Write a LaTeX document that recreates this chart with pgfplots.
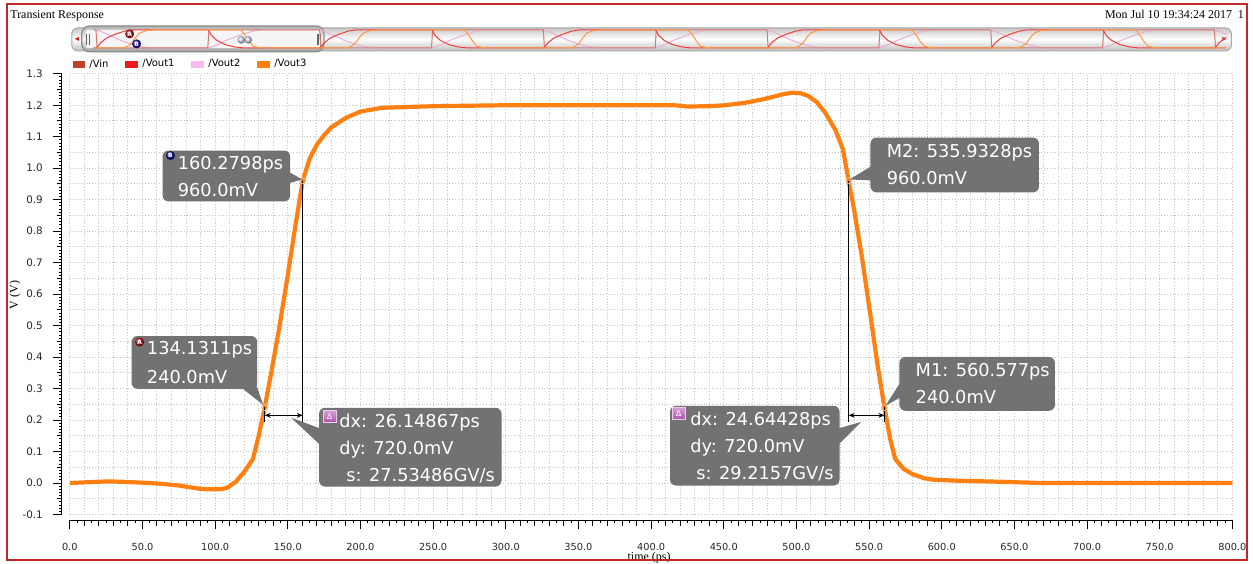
\documentclass[border=0pt]{standalone}
\usepackage{pgfplots}
\pgfplotsset{compat=1.18}
\usepackage{pgfplotstable}
\usepackage{fontspec}
\setmainfont{Liberation Serif}
\newfontfamily\dejavu{DejaVu Sans}
\usetikzlibrary{arrows.meta}

\definecolor{vincol}{RGB}{192,64,48}
\definecolor{vout1col}{RGB}{240,24,24}
\definecolor{vout2col}{RGB}{248,186,232}
\definecolor{vout3col}{RGB}{255,128,16}
\definecolor{boxgray}{RGB}{114,114,114}
\definecolor{framered}{RGB}{192,40,40}
\definecolor{gridgray}{RGB}{196,196,196}
\definecolor{markblue}{RGB}{20,20,150}
\definecolor{markred}{RGB}{190,20,28}
\definecolor{deltapurple}{RGB}{190,90,190}

\newcommand{\annot}{\dejavu\fontsize{8.9}{10.5}\selectfont}
\newcommand{\xticksfont}{\dejavu\fontsize{4.9}{5.9}\selectfont}
\newcommand{\yticksfont}{\dejavu\fontsize{5.2}{6.2}\selectfont}

\pgfplotsset{swatch/.style={legend image code/.code={\fill[##1] (0pt,-1.8pt) rectangle (6.5pt,1.8pt);}}}
\tikzset{px/.style={x=0.5pt,y=-0.5pt,shift={(0pt,282.5pt)}}}

% Vout3 transient (time in ps, voltage in V)
\pgfplotstableread{
t v
0 0.000
10 0.002
20 0.004
26 0.005
35 0.004
45 0.002
55 0.000
64 -0.003
75 -0.008
82 -0.013
89 -0.018
95 -0.020
103 -0.020
108 -0.016
114 0.003
120 0.035
126 0.076
130 0.150
134.1311 0.240
139 0.360
144 0.490
150 0.660
155 0.810
160.2798 0.960
165 1.030
170 1.075
175 1.105
180 1.130
190 1.160
200 1.180
215 1.192
250 1.197
300 1.200
416 1.200
425 1.196
440 1.197
451 1.200
465 1.208
478 1.220
490 1.234
497 1.240
503 1.238
508 1.230
514 1.210
520 1.175
527 1.120
532 1.060
535.9328 0.960
540 0.860
545 0.720
551 0.530
556 0.370
560.577 0.240
564.5 0.140
568 0.076
574 0.044
580 0.028
588 0.015
595 0.010
613 0.007
640 0.004
668 0.000
800 0.000
}\voutthree

% one 800 ps period of each node for the overview strip
\pgfplotstableread{
t v
0 1.2
8 1.2
12 0
408 0
412 1.2
800 1.2
}\thumbvin
\pgfplotstableread{
t v
0 0
10 0
25 0.35
45 0.65
75 0.9
110 1.12
135 1.2
410 1.2
420 0.85
440 0.5
470 0.22
505 0.06
535 0
800 0
}\thumbvouta
\pgfplotstableread{
t v
0 1.2
20 1.15
50 0.9
90 0.55
140 0.22
180 0.06
205 0
410 0
440 0.2
480 0.55
530 0.9
570 1.12
600 1.2
800 1.2
}\thumbvoutb
\pgfplotstableread{
t v
0 0
105 0
120 0.1
135 0.3
150 0.7
165 1.0
190 1.17
220 1.2
525 1.2
540 0.9
555 0.45
570 0.12
590 0.02
620 0
800 0
}\thumbvoutc

\begin{document}
\begin{tikzpicture}
\path (0,0) rectangle (626.5pt,282.5pt);

% header and overview strip
\begin{scope}[px]
  \node[anchor=base west, inner sep=0, font=\fontsize{6}{7}\selectfont] at (10,19) {Transient Response};
  \node[anchor=base east, inner sep=0, font=\fontsize{6}{7}\selectfont] at (1248,19) {Mon Jul 10 19:34:24 2017\enspace 1};
  \shade[rounded corners=3pt, top color=black!22, bottom color=black!25, middle color=white, draw=black!35, line width=0.5pt] (72,28) rectangle (1235,51);
  \shade[rounded corners=4pt, top color=black!30, bottom color=black!38, middle color=black!4, draw=black!45, line width=0.6pt] (82,26) rectangle (325,52);
  \fill[white!96!black, rounded corners=1pt] (86,30) rectangle (321,48);
  \fill[framered] (75,39) -- (79,37) -- (79,41) -- cycle;
  \fill[framered] (1230,39) -- (1226,37) -- (1226,41) -- cycle;
  \foreach \hx in {87,89.5,319,321.5} \draw[black!60, line width=0.6pt] (\hx,34) -- (\hx,45);
\end{scope}

\begin{axis}[
  at={(47pt,258.1pt)}, anchor=south west,
  width=568pt, height=9.75pt, scale only axis,
  xmin=0, xmax=4051, ymin=-0.05, ymax=1.25,
  hide axis, clip=true,
]
\pgfplotsinvokeforeach{0,1,2,3,4,5}{
  \addplot[vout2col!85!gray, line width=0.5pt] table[x expr=\thisrow{t}+800*#1, y=v]{\thumbvoutb};
  \addplot[vincol!70, line width=0.5pt] table[x expr=\thisrow{t}+800*#1, y=v]{\thumbvin};
  \addplot[vout1col!85, line width=0.5pt] table[x expr=\thisrow{t}+800*#1, y=v]{\thumbvouta};
  \addplot[vout3col!80, line width=0.5pt] table[x expr=\thisrow{t}+800*#1, y=v]{\thumbvoutc};
}
\end{axis}

\begin{scope}[px]
  \shade[ball color=markred] (130,34) circle (4.5);
  \node[font=\dejavu\fontsize{3}{3}\selectfont\bfseries, text=white, inner sep=0] at (130,34) {A};
  \shade[ball color=markblue] (137,44) circle (4.5);
  \node[font=\dejavu\fontsize{3}{3}\selectfont\bfseries, text=white, inner sep=0] at (137,44) {B};
  \shade[ball color=black!30!blue!15] (242,40) circle (3.8);
  \shade[ball color=black!30!blue!15] (249,40) circle (3.8);
\end{scope}

% main waveform
\begin{axis}[
  at={(35pt,24.5pt)}, anchor=south west,
  width=583pt, height=221pt, scale only axis,
  xmin=0, xmax=800, ymin=-0.1, ymax=1.3,
  axis x line=bottom, axis y line=left,
  axis x line shift=3pt, axis y line shift=4pt,
  axis line style={-, black, line width=0.6pt},
  xtick={0,50,...,800},
  ytick={-0.1,0,0.1,0.2,0.3,0.4,0.5,0.6,0.7,0.8,0.9,1.0,1.1,1.2,1.3},
  minor x tick num=4, minor y tick num=1,
  grid=both,
  major grid style={gridgray, densely dotted, line width=0.5pt},
  minor grid style={gridgray, densely dotted, line width=0.5pt},
  tick align=outside, major tick length=4.5pt, minor tick length=2.6pt,
  tick style={black, line width=0.5pt},
  extra x ticks={5,15,...,795}, extra x tick labels={},
  extra x tick style={grid=none, major tick length=1.5pt},
  extra y ticks={-0.09,-0.08,...,1.29}, extra y tick labels={},
  extra y tick style={grid=none, major tick length=1.5pt},
  xticklabel style={font=\xticksfont, text=black!85, yshift=-3.5pt},
  yticklabel style={font=\yticksfont, text=black!85, xshift=-1.5pt},
  /pgf/number format/fixed, /pgf/number format/fixed zerofill,
  /pgf/number format/precision=1, /pgf/number format/assume math mode=true,
  legend columns=4, legend cell align=left,
  legend style={at={(0.002,1.0205)}, anchor=west, draw=none, fill=none,
    font=\dejavu\fontsize{5}{6}\selectfont, inner sep=0pt,
    /tikz/every even column/.append style={column sep=6.5pt},
    nodes={inner sep=2pt}},
]
\addlegendimage{swatch, fill=vincol, draw=none}\addlegendentry{/Vin}
\addlegendimage{swatch, fill=vout1col, draw=none}\addlegendentry{/Vout1}
\addlegendimage{swatch, fill=vout2col, draw=none}\addlegendentry{/Vout2}
\addlegendimage{swatch, fill=vout3col, draw=none}\addlegendentry{/Vout3}

\addplot[vout3col, line width=2.1pt, line join=round, forget plot] table[x=t, y=v]{\voutthree};

% delta measurements
\addplot[black, line width=0.5pt, forget plot] coordinates {(160.2798,0.96) (160.2798,0.193)};
\addplot[black, line width=0.5pt, forget plot] coordinates {(134.1311,0.24) (134.1311,0.193)};
\addplot[black, line width=0.5pt, {Stealth[length=3pt,width=2.4pt]}-{Stealth[length=3pt,width=2.4pt]}, forget plot] coordinates {(134.1311,0.215) (160.2798,0.215)};
\addplot[black, line width=0.5pt, forget plot] coordinates {(535.9328,0.96) (535.9328,0.193)};
\addplot[black, line width=0.5pt, forget plot] coordinates {(560.577,0.24) (560.577,0.193)};
\addplot[black, line width=0.5pt, {Stealth[length=3pt,width=2.4pt]}-{Stealth[length=3pt,width=2.4pt]}, forget plot] coordinates {(535.9328,0.215) (560.577,0.215)};
\addplot[only marks, mark=o, mark size=1.5pt, orange!55, mark options={line width=0.4pt}, forget plot] coordinates {(134.1311,0.24) (160.2798,0.96) (535.9328,0.96) (560.577,0.24)};
\end{axis}

% marker read-outs
\begin{scope}[px]
  % B
  \fill[boxgray] (289,172) -- (303,180) -- (289,184) -- cycle;
  \fill[boxgray, rounded corners=3] (163,151) rectangle (291,202);
  \node[anchor=base west, inner sep=0, text=white, font=\annot] at (178,170) {160.2798ps};
  \node[anchor=base west, inner sep=0, text=white, font=\annot] at (178,197) {960.0mV};
  \shade[ball color=markblue] (171,156) circle (4.5);
  \node[font=\dejavu\fontsize{3}{3}\selectfont\bfseries, text=white, inner sep=0] at (171,156) {B};
  % A
  \fill[boxgray] (241,388) -- (264,406) -- (257,386) -- cycle;
  \fill[boxgray, rounded corners=3] (132,337) rectangle (258,390);
  \node[anchor=base west, inner sep=0, text=white, font=\annot] at (147,356) {134.1311ps};
  \node[anchor=base west, inner sep=0, text=white, font=\annot] at (147,385) {240.0mV};
  \shade[ball color=markred] (140,343) circle (4.5);
  \node[font=\dejavu\fontsize{3}{3}\selectfont\bfseries, text=white, inner sep=0] at (140,343) {A};
  % delta, rising edge
  \fill[boxgray] (322,430) -- (292,419) -- (322,447) -- cycle;
  \fill[boxgray, rounded corners=3] (320,409) rectangle (503,488);
  \node[anchor=base west, inner sep=0, text=white, font=\annot] at (340,429) {dx: 26.14867ps};
  \node[anchor=base west, inner sep=0, text=white, font=\annot] at (340,456) {dy: 720.0mV};
  \node[anchor=base west, inner sep=0, text=white, font=\annot] at (347,483) {s: 27.53486GV/s};
  \shade[top color=deltapurple!60, bottom color=deltapurple!90!black, draw=white!70!deltapurple, line width=0.3pt] (324,412) rectangle (337,424);
  \node[font=\dejavu\fontsize{4}{4}\selectfont, text=white, inner sep=0] at (330.5,418) {Δ};
  % M2
  \fill[boxgray] (875,166) -- (852,180) -- (875,181) -- cycle;
  \fill[boxgray, rounded corners=3] (873,138) rectangle (1042,193);
  \node[anchor=base west, inner sep=0, text=white, font=\annot] at (889,158) {M2: 535.9328ps};
  \node[anchor=base west, inner sep=0, text=white, font=\annot] at (889,185) {960.0mV};
  % M1
  \fill[boxgray] (904,382) -- (888,407) -- (904,398) -- cycle;
  \fill[boxgray, rounded corners=3] (902,358) rectangle (1058,412);
  \node[anchor=base west, inner sep=0, text=white, font=\annot] at (918,378) {M1: 560.577ps};
  \node[anchor=base west, inner sep=0, text=white, font=\annot] at (918,405) {240.0mV};
  % delta, falling edge
  \fill[boxgray] (840,430) -- (864,423) -- (840,447) -- cycle;
  \fill[boxgray, rounded corners=3] (672,407) rectangle (842,487);
  \node[anchor=base west, inner sep=0, text=white, font=\annot] at (692,427) {dx: 24.64428ps};
  \node[anchor=base west, inner sep=0, text=white, font=\annot] at (692,454) {dy: 720.0mV};
  \node[anchor=base west, inner sep=0, text=white, font=\annot] at (698,481) {s: 29.2157GV/s};
  \shade[top color=deltapurple!60, bottom color=deltapurple!90!black, draw=white!70!deltapurple, line width=0.3pt] (674,409) rectangle (687,421);
  \node[font=\dejavu\fontsize{4}{4}\selectfont, text=white, inner sep=0] at (680.5,415) {Δ};

  % axis titles
  \node[rotate=90, inner sep=0, font=\fontsize{6}{7}\selectfont] at (15,296) {V (V)};
  \node[anchor=base, inner sep=0, font=\fontsize{6}{7}\selectfont] at (651,562) {time (ps)};

  % window frame
  \draw[framered, line width=1pt] (7,4) rectangle (1251,562);
\end{scope}
\end{tikzpicture}
\end{document}
